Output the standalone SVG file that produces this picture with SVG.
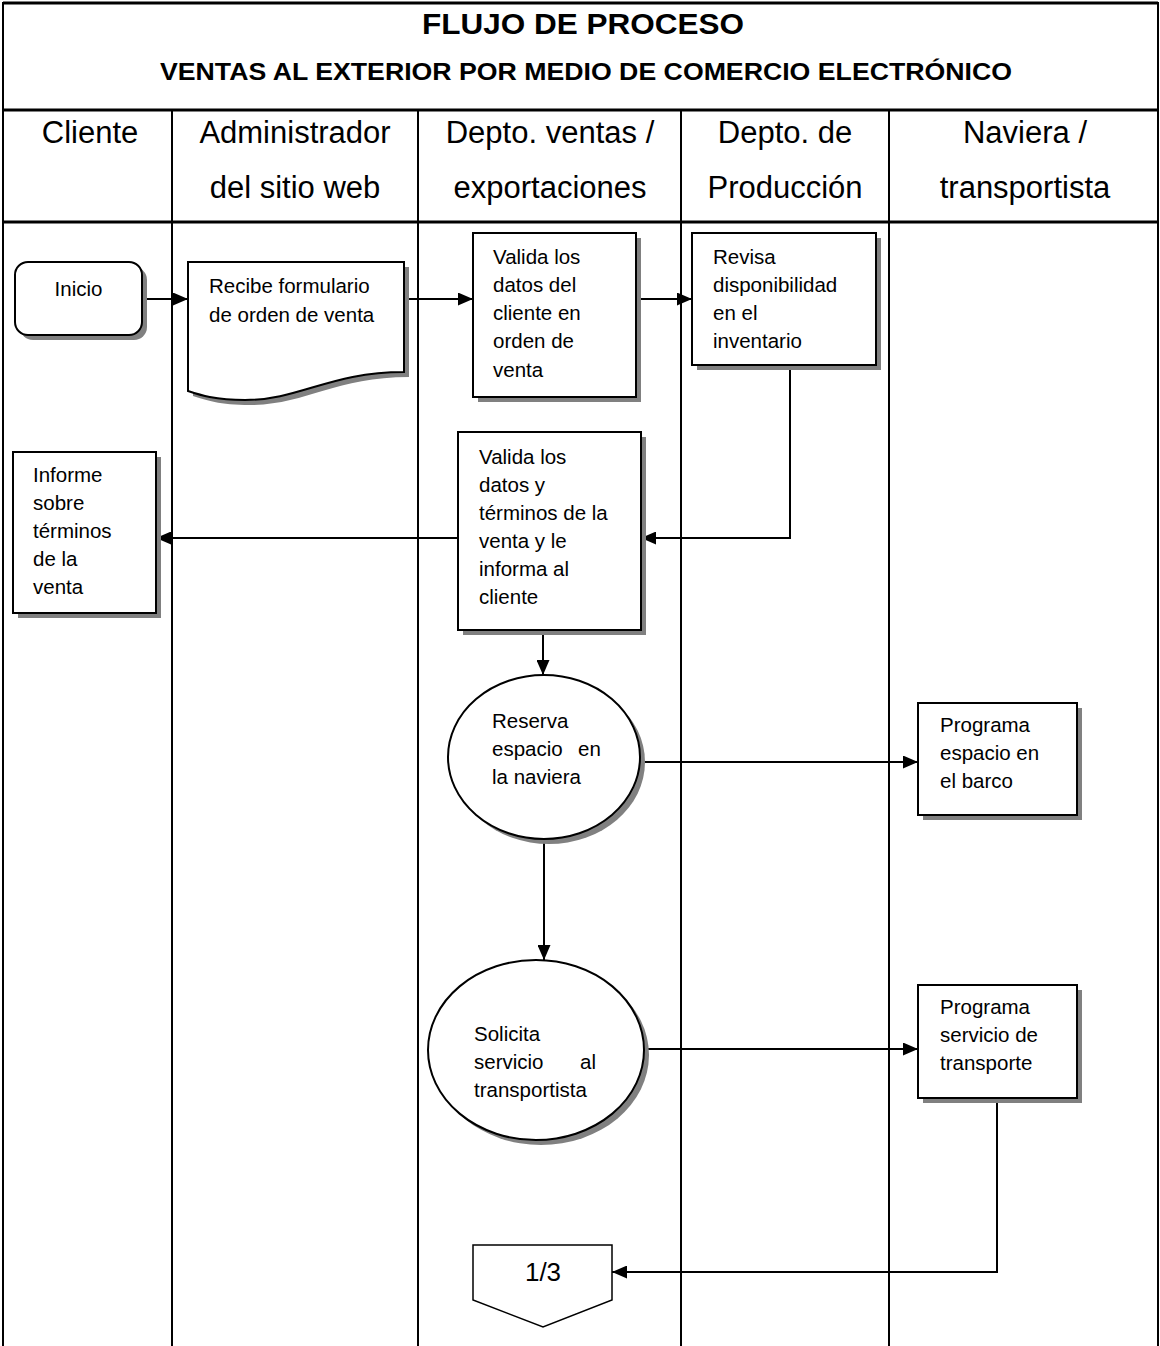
<svg xmlns="http://www.w3.org/2000/svg" width="1160" height="1346" viewBox="0 0 1160 1346">
<defs>
<marker id="ah" viewBox="0 0 15 13" refX="15" refY="6.5" markerWidth="15" markerHeight="13" markerUnits="userSpaceOnUse" orient="auto"><path d="M0,0 L15,6.5 L0,13 z" fill="#000"/></marker>
</defs>
<style>
.t{font-family:"Liberation Sans",Arial,sans-serif;font-size:20.5px;fill:#000}
.h{font-family:"Liberation Sans",Arial,sans-serif;font-size:31px;fill:#000;text-anchor:middle}
.ttl{font-family:"Liberation Sans",Arial,sans-serif;font-weight:bold;fill:#000;text-anchor:middle}
.box{fill:#fff;stroke:#000;stroke-width:2}
.sh{fill:#808080;stroke:none}
.ln{stroke:#000;stroke-width:2;fill:none}
.fr{stroke:#000;stroke-width:3;fill:none}
.cn{stroke:#000;stroke-width:2;fill:none;marker-end:url(#ah)}
</style>
<rect x="0" y="0" width="1160" height="1346" fill="#fff"/>
<g id="frame">
<path class="fr" d="M3,3 H1158 M3,110 H1158 M3,222 H1158"/>
<path class="ln" d="M3,2 V1346 M1158,2 V1346"/>
<path class="ln" d="M172,110 V1346 M418,110 V1346 M681,110 V1346 M889,110 V1346"/>
<text class="ttl" x="583" y="34" font-size="29" textLength="322" lengthAdjust="spacingAndGlyphs">FLUJO DE PROCESO</text>
<text class="ttl" x="586" y="80" font-size="23" textLength="852" lengthAdjust="spacingAndGlyphs">VENTAS AL EXTERIOR POR MEDIO DE COMERCIO ELECTRÓNICO</text>
<text class="h" x="90" y="143">Cliente</text>
<text class="h" x="295" y="143">Administrador</text>
<text class="h" x="295" y="198">del sitio web</text>
<text class="h" x="550" y="143">Depto. ventas /</text>
<text class="h" x="550" y="198">exportaciones</text>
<text class="h" x="785" y="143">Depto. de</text>
<text class="h" x="785" y="198">Producción</text>
<text class="h" x="1025" y="143">Naviera /</text>
<text class="h" x="1025" y="198">transportista</text>
</g>
<g id="connectors">
<path class="cn" d="M142,299 H188"/>
<path class="cn" d="M404,299 H473"/>
<path class="cn" d="M636,299 H692"/>
<path class="cn" d="M790,365 V538 H641"/>
<path class="cn" d="M458,538 H156"/>
<path class="cn" d="M543,630 V675"/>
<path class="cn" d="M640,762 H918"/>
<path class="cn" d="M544,840 V960"/>
<path class="cn" d="M645,1049 H918"/>
<path class="cn" d="M997,1098 V1272 H612"/>
</g>
<g id="inicio">
<rect class="sh" x="20" y="267" width="127" height="73" rx="13"/>
<rect class="box" x="15" y="262" width="127" height="73" rx="13"/>
<text class="t" x="78.5" y="296" text-anchor="middle">Inicio</text>
</g>
<g id="recibe">
<path class="sh" d="M193,267 H409 V377 C335,377 305,405 250,405 C220,405 205,400 193,396 Z"/>
<path class="box" d="M188,262 H404 V372 C330,372 300,400 245,400 C215,400 200,395 188,391 Z"/>
<text class="t" x="209" y="293">Recibe formulario</text>
<text class="t" x="209" y="322">de orden de venta</text>
</g>
<g id="valida1">
<rect class="sh" x="478" y="238" width="163" height="164"/>
<rect class="box" x="473" y="233" width="163" height="164"/>
<text class="t" x="493" y="264">Valida los</text>
<text class="t" x="493" y="292">datos del</text>
<text class="t" x="493" y="320">cliente en</text>
<text class="t" x="493" y="348">orden de</text>
<text class="t" x="493" y="377">venta</text>
</g>
<g id="revisa">
<rect class="sh" x="697" y="238" width="184" height="132"/>
<rect class="box" x="692" y="233" width="184" height="132"/>
<text class="t" x="713" y="264">Revisa</text>
<text class="t" x="713" y="292">disponibilidad</text>
<text class="t" x="713" y="320">en el</text>
<text class="t" x="713" y="348">inventario</text>
</g>
<g id="valida2">
<rect class="sh" x="463" y="437" width="183" height="198"/>
<rect class="box" x="458" y="432" width="183" height="198"/>
<text class="t" x="479" y="464">Valida los</text>
<text class="t" x="479" y="492">datos y</text>
<text class="t" x="479" y="520">términos de la</text>
<text class="t" x="479" y="548">venta y le</text>
<text class="t" x="479" y="576">informa al</text>
<text class="t" x="479" y="604">cliente</text>
</g>
<g id="informe">
<rect class="sh" x="18" y="457" width="143" height="161"/>
<rect class="box" x="13" y="452" width="143" height="161"/>
<text class="t" x="33" y="482">Informe</text>
<text class="t" x="33" y="510">sobre</text>
<text class="t" x="33" y="538">términos</text>
<text class="t" x="33" y="566">de la</text>
<text class="t" x="33" y="594">venta</text>
</g>
<g id="reserva">
<ellipse class="sh" cx="549" cy="762" rx="96" ry="82"/>
<ellipse class="box" cx="544" cy="757" rx="96" ry="82"/>
<text class="t" x="492" y="728">Reserva</text>
<text class="t" y="756"><tspan x="492">espacio</tspan><tspan x="578">en</tspan></text>
<text class="t" x="492" y="784">la naviera</text>
</g>
<g id="programa1">
<rect class="sh" x="923" y="708" width="159" height="112"/>
<rect class="box" x="918" y="703" width="159" height="112"/>
<text class="t" x="940" y="732">Programa</text>
<text class="t" x="940" y="760">espacio en</text>
<text class="t" x="940" y="788">el barco</text>
</g>
<g id="solicita">
<ellipse class="sh" cx="541" cy="1055" rx="108" ry="90"/>
<ellipse class="box" cx="536" cy="1050" rx="108" ry="90"/>
<text class="t" x="474" y="1041">Solicita</text>
<text class="t" y="1069"><tspan x="474">servicio</tspan><tspan x="580">al</tspan></text>
<text class="t" x="474" y="1097">transportista</text>
</g>
<g id="programa2">
<rect class="sh" x="923" y="990" width="159" height="113"/>
<rect class="box" x="918" y="985" width="159" height="113"/>
<text class="t" x="940" y="1014">Programa</text>
<text class="t" x="940" y="1042">servicio de</text>
<text class="t" x="940" y="1070">transporte</text>
</g>
<g id="offpage">
<path class="box" d="M473,1245 H612 V1300 L543,1327 L473,1300 Z" style="stroke-width:1.5"/>
<text class="t" x="543" y="1281" text-anchor="middle" style="font-size:26px">1/3</text>
</g>
</svg>
